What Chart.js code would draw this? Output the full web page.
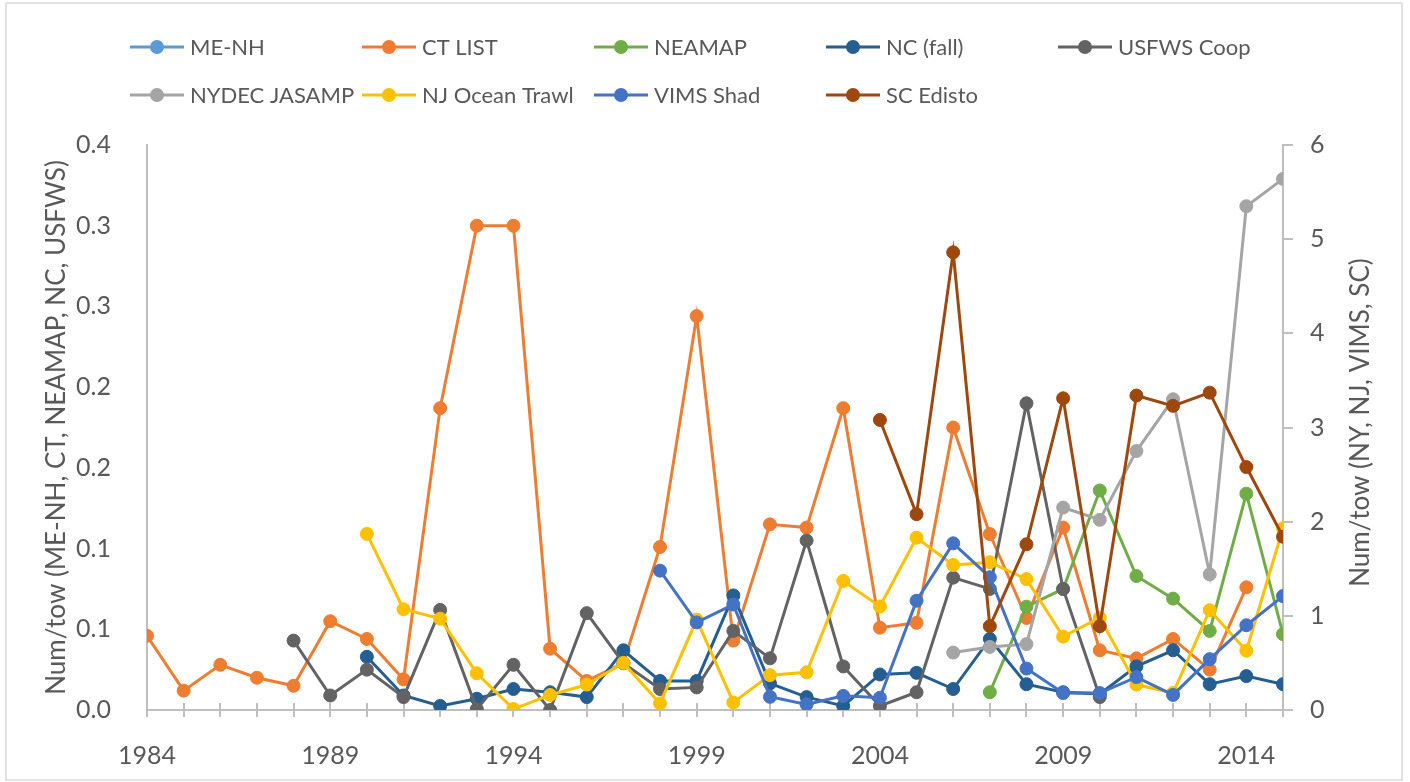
<!DOCTYPE html>
<html>
<head>
<meta charset="utf-8">
<title>Num/tow</title>
<script src="https://cdn.jsdelivr.net/npm/chart.js@4.4.1/dist/chart.umd.min.js"></script>
<style>
  body { margin: 0; background: #fff; }
  #present { width: 1410px; height: 782px; }
</style>
</head>
<body>
<div id="present"><canvas id="myLineChart" width="1410" height="782"></canvas></div>
<script>
// survey series, values by year starting at the given year
const meNhStart = 1984;
const meNh = [];
const ctListStart = 1984;
const ctList = [0.046, 0.012, 0.028, 0.020, 0.015, 0.055, 0.044, 0.019, 0.187, 0.300, 0.300, 0.038, 0.018, 0.029, 0.101, 0.244,
  0.043, 0.115, 0.113, 0.187, 0.051, 0.054, 0.175, 0.109, 0.057, 0.113, 0.037, 0.032, 0.044, 0.025, 0.076];
const neamapStart = 2007;
const neamap = [0.011, 0.064, 0.075, 0.136, 0.083, 0.069, 0.049, 0.134, 0.047];
const ncFallStart = 1990;
const ncFall = [0.033, 0.009, 0.0025, 0.007, 0.013, 0.011, 0.008, 0.037, 0.018, 0.018, 0.071, 0.0165, 0.008, 0.0025,
  0.022, 0.023, 0.013, 0.044, 0.016, 0.011, 0.010, 0.027, 0.037, 0.016, 0.021, 0.016];
const usfwsStart = 1988;
const usfws = [0.043, 0.009, 0.025, 0.008, 0.062, 0.0005, 0.028, 0.0, 0.060, 0.029, 0.013, 0.014, 0.049, 0.032, 0.105,
  0.027, 0.0025, 0.011, 0.082, 0.075, 0.190, 0.075, 0.008];
// right axis series
const nydecStart = 2006;
const nydec = [0.61, 0.67, 0.70, 2.15, 2.02, 2.75, 3.30, 1.44, 5.35, 5.64];
const njTrawlStart = 1990;
const njTrawl = [1.87, 1.07, 0.97, 0.39, 0.01, 0.16, 0.27, 0.50, 0.07, 0.96, 0.08, 0.37, 0.40, 1.37, 1.10, 1.83,
  1.54, 1.57, 1.39, 0.78, 0.98, 0.27, 0.18, 1.06, 0.63, 1.93];
const vimsStart = 1998;
const vims = [1.48, 0.93, 1.12, 0.14, 0.06, 0.15, 0.13, 1.16, 1.77, 1.41, 0.44, 0.18, 0.18, 0.35, 0.16, 0.54, 0.90, 1.21];
const edistoStart = 2004;
const edisto = [3.08, 2.08, 4.86, 0.89, 1.76, 3.31, 0.89, 3.34, 3.23, 3.37, 2.58, 1.84];

const leftTickLabels = ['0.0', '0.1', '0.1', '0.2', '0.2', '0.3', '0.3', '0.4'];
const leftTitle = 'Num/tow (ME-NH, CT, NEAMAP, NC, USFWS)';
const rightTitle = 'Num/tow (NY, NJ, VIMS, SC)';

const textColor = '#595959';
const axisColor = '#BFBFBF';
const fontFamily = 'Lato, "Open Sans", sans-serif';

function points(start, values) {
  return values.map(function(v, i) { return {x: start + i, y: v}; });
}

function series(label, start, values, color, axis, idx) {
  return {
    label: label,
    data: points(start, values),
    yAxisID: axis,
    borderColor: color,
    backgroundColor: color,
    borderWidth: 3,
    pointRadius: 6.5,
    pointBorderWidth: 1,
    pointHoverRadius: 6.5,
    tension: 0,
    order: 20 - idx,
  };
}

const datasets = [
  series('ME-NH', meNhStart, meNh, '#5B9BD5', 'y', 0),
  series('CT LIST', ctListStart, ctList, '#ED7D31', 'y', 1),
  series('NEAMAP', neamapStart, neamap, '#70AD47', 'y', 2),
  series('NC (fall)', ncFallStart, ncFall, '#255E91', 'y', 3),
  series('USFWS Coop', usfwsStart, usfws, '#636363', 'y', 4),
  series('NYDEC JASAMP', nydecStart, nydec, '#A5A5A5', 'y1', 5),
  series('NJ Ocean Trawl', njTrawlStart, njTrawl, '#FFC000', 'y1', 6),
  series('VIMS Shad', vimsStart, vims, '#4472C4', 'y1', 7),
  series('SC Edisto', edistoStart, edisto, '#9E480E', 'y1', 8),
];

// frame, year tick marks, axis titles and the two-row legend
const decorations = {
  id: 'decorations',
  beforeDraw(chart) {
    const ctx = chart.ctx;
    ctx.save();
    ctx.strokeStyle = '#D9D9D9';
    ctx.lineWidth = 1.5;
    ctx.strokeRect(6, 3, 1396, 777);
    ctx.restore();
  },
  beforeDatasetsDraw(chart) {
    const ctx = chart.ctx;
    const xs = chart.scales.x;
    const base = chart.chartArea.bottom;
    ctx.save();
    ctx.strokeStyle = axisColor;
    ctx.lineWidth = 2;
    for (let yr = 1984; yr <= 2015; yr++) {
      const px = Math.round(xs.getPixelForValue(yr));
      ctx.beginPath();
      ctx.moveTo(px, base - 7);
      ctx.lineTo(px, base + 7);
      ctx.stroke();
    }
    ctx.restore();
  },
  afterDraw(chart) {
    const ctx = chart.ctx;
    const area = chart.chartArea;
    const midY = (area.top + area.bottom) / 2;
    ctx.save();
    ctx.fillStyle = textColor;
    ctx.font = '26px ' + fontFamily;
    ctx.textAlign = 'center';
    ctx.textBaseline = 'middle';
    ctx.translate(57, midY);
    ctx.rotate(-Math.PI / 2);
    ctx.fillText(leftTitle, 0, 0);
    ctx.restore();

    ctx.save();
    ctx.fillStyle = textColor;
    ctx.font = '26px ' + fontFamily;
    ctx.textAlign = 'center';
    ctx.textBaseline = 'middle';
    ctx.translate(1361, midY - 5);
    ctx.rotate(-Math.PI / 2);
    ctx.fillText(rightTitle, 0, 0);
    ctx.restore();

    // legend: 5 columns, 2 rows
    ctx.save();
    ctx.font = '22px ' + fontFamily;
    ctx.textBaseline = 'middle';
    ctx.textAlign = 'left';
    chart.data.datasets.forEach(function(ds, i) {
      const cx = 157 + (i % 5) * 232;
      const cy = i < 5 ? 47 : 95;
      ctx.strokeStyle = ds.borderColor;
      ctx.fillStyle = ds.borderColor;
      ctx.lineWidth = 3;
      ctx.beginPath();
      ctx.moveTo(cx - 27, cy);
      ctx.lineTo(cx + 27, cy);
      ctx.stroke();
      ctx.beginPath();
      ctx.arc(cx, cy, 7, 0, Math.PI * 2);
      ctx.fill();
      ctx.fillStyle = textColor;
      ctx.fillText(ds.label, cx + 33, cy + 1);
    });
    ctx.restore();
  }
};

var ctx = document.getElementById('myLineChart').getContext('2d');
var myLineChart = new Chart(ctx, {
  type: 'line',
  data: { datasets: datasets },
  plugins: [decorations],
  options: {
    responsive: false,
    animation: false,
    layout: { padding: { top: 145, left: 0, right: 0, bottom: 0 } },
    plugins: {
      legend: { display: false },
      tooltip: { enabled: false },
    },
    scales: {
      x: {
        type: 'linear',
        min: 1984,
        max: 2015,
        afterFit: function(scale) { scale.height = 72; },
        grid: { display: false },
        border: { display: true, color: axisColor, width: 2 },
        ticks: {
          stepSize: 1,
          autoSkip: false,
          maxRotation: 0,
          padding: 23,
          color: textColor,
          font: { family: fontFamily, size: 25 },
          callback: function(v) { return v % 5 === 4 ? String(v) : ''; },
        },
      },
      y: {
        position: 'left',
        min: 0,
        max: 0.35,
        afterFit: function(scale) { scale.width = 147; },
        grid: { display: false },
        border: { display: true, color: axisColor, width: 2 },
        ticks: {
          stepSize: 0.05,
          padding: 28,
          color: textColor,
          font: { family: fontFamily, size: 25 },
          callback: function(v) { return leftTickLabels[Math.round(v / 0.05)]; },
        },
      },
      y1: {
        position: 'right',
        min: 0,
        max: 6,
        afterFit: function(scale) { scale.width = 127; },
        grid: { drawOnChartArea: false, drawTicks: true, tickLength: 10, color: axisColor, lineWidth: 2 },
        border: { display: true, color: axisColor, width: 2 },
        ticks: {
          stepSize: 1,
          padding: 17,
          color: textColor,
          font: { family: fontFamily, size: 25 },
        },
      },
    },
  },
});
</script>
</body>
</html>
